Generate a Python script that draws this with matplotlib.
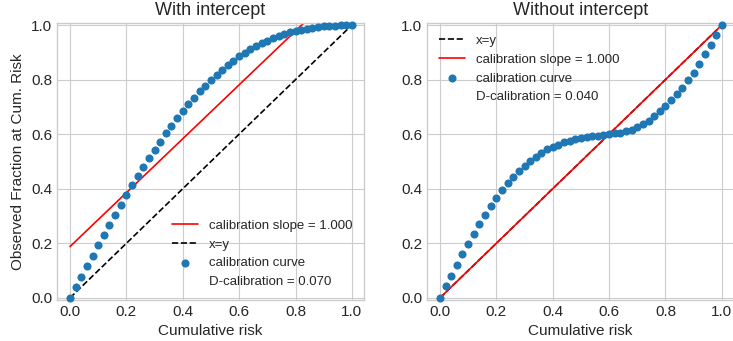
import numpy as np
import matplotlib
matplotlib.use("Agg")
import matplotlib.pyplot as plt

# ---------- DATA ----------
cum_risk = [0.00, 0.02, 0.04, 0.06, 0.08, 0.10, 0.12, 0.14, 0.16, 0.18,
            0.20, 0.22, 0.24, 0.26, 0.28, 0.30, 0.32, 0.34, 0.36, 0.38,
            0.40, 0.42, 0.44, 0.46, 0.48, 0.50, 0.52, 0.54, 0.56, 0.58,
            0.60, 0.62, 0.64, 0.66, 0.68, 0.70, 0.72, 0.74, 0.76, 0.78,
            0.80, 0.82, 0.84, 0.86, 0.88, 0.90, 0.92, 0.94, 0.96, 0.98,
            1.00]

obs_with_intercept = [0.000, 0.040, 0.078, 0.117, 0.155, 0.193, 0.231, 0.268, 0.304, 0.341,
                      0.377, 0.412, 0.446, 0.479, 0.511, 0.543, 0.573, 0.603, 0.631, 0.658,
                      0.685, 0.710, 0.733, 0.757, 0.778, 0.798, 0.818, 0.836, 0.853, 0.869,
                      0.885, 0.899, 0.911, 0.923, 0.933, 0.943, 0.951, 0.960, 0.966, 0.973,
                      0.978, 0.983, 0.987, 0.990, 0.993, 0.995, 0.996, 0.998, 0.999, 0.999,
                      1.000]

obs_without_intercept = [0.000, 0.043, 0.082, 0.122, 0.160, 0.198, 0.235, 0.270, 0.303, 0.335,
                         0.366, 0.394, 0.421, 0.444, 0.466, 0.485, 0.502, 0.518, 0.532, 0.544,
                         0.554, 0.562, 0.570, 0.576, 0.581, 0.586, 0.589, 0.592, 0.594, 0.597,
                         0.599, 0.603, 0.606, 0.611, 0.617, 0.626, 0.636, 0.649, 0.665, 0.685,
                         0.705, 0.727, 0.748, 0.771, 0.798, 0.826, 0.859, 0.892, 0.925, 0.962,
                         1.000]

# fitted calibration lines, endpoints at x=0 and x=1
line_x = [0.0, 1.0]
line_with_intercept = [0.188, 1.176]
line_without_intercept = [0.0, 1.0]
diag = [0.0, 1.0]

slope_label = "calibration slope = 1.000"
dcal_with = "D-calibration = 0.070"
dcal_without = "D-calibration = 0.040"
# ---------------------------------------------------

plt.style.use("seaborn-v0_8-whitegrid")
plt.rcParams["font.family"] = ["Liberation Sans", "DejaVu Sans"]

fig = plt.figure(figsize=(7.33, 3.41), dpi=100)
ax1 = fig.add_axes([0.0778, 0.120, 0.4188, 0.813])
ax2 = fig.add_axes([0.5825, 0.120, 0.4188, 0.813])

# left: with intercept
ax1.plot(line_x, line_with_intercept, color="red", lw=1.2, label=slope_label)
ax1.plot(diag, diag, "k--", lw=1.2, label="x=y")
ax1.scatter(cum_risk, obs_with_intercept, s=34, color="#1f77b4", lw=0,
            clip_on=False, zorder=3, label="calibration curve")
ax1.plot([], [], " ", label=dcal_with)
ax1.set_title("With intercept", fontsize=13)
ax1.set_xlabel("Cumulative risk", fontsize=11)
ax1.set_ylabel("Observed Fraction at Cum. Risk", fontsize=11)
ax1.legend(loc="lower right", fontsize=9.5, scatterpoints=1)

# right: without intercept
ax2.plot(diag, diag, "k--", lw=1.2, label="x=y")
ax2.plot(line_x, line_without_intercept, color="red", lw=1.2, label=slope_label)
ax2.scatter(cum_risk, obs_without_intercept, s=34, color="#1f77b4", lw=0,
            clip_on=False, zorder=3, label="calibration curve")
ax2.plot([], [], " ", label=dcal_without)
ax2.set_title("Without intercept", fontsize=13)
ax2.set_xlabel("Cumulative risk", fontsize=11)
ax2.legend(loc="upper left", fontsize=9.5, scatterpoints=1)

for ax in (ax1, ax2):
    ax.set_xlim(-0.046, 1.043)
    ax.set_ylim(-0.008, 1.008)
    ax.set_xticks([0.0, 0.2, 0.4, 0.6, 0.8, 1.0])
    ax.set_yticks([0.0, 0.2, 0.4, 0.6, 0.8, 1.0])
    ax.tick_params(labelsize=11)

fig.savefig("out.png", dpi=100)
